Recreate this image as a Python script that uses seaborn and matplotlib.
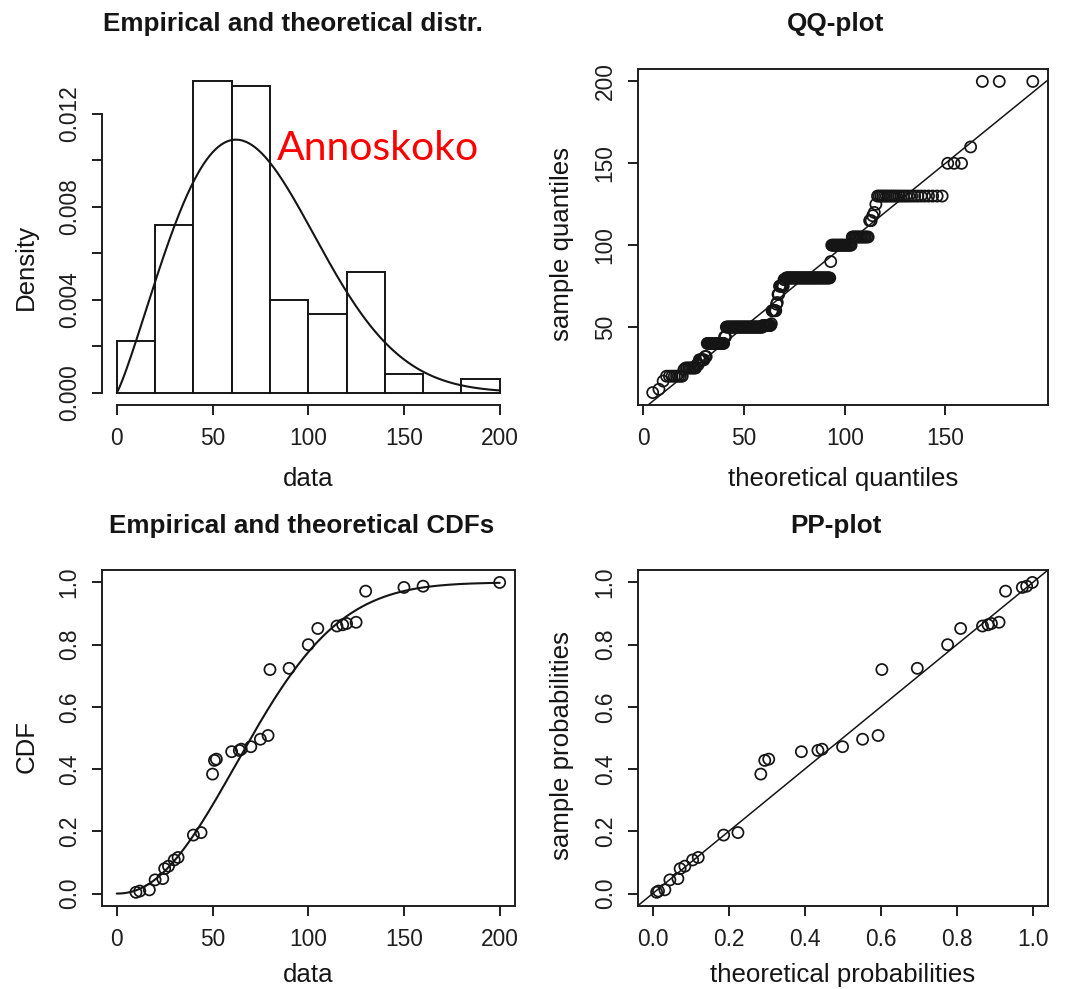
import numpy as np
import pandas as pd
import matplotlib
matplotlib.use("Agg")
import matplotlib.pyplot as plt
import seaborn as sns

# ---------------- data ----------------
# distinct observed values and how many times each occurs (n = 250)
values = [10, 12, 17, 20, 24, 25, 27, 30, 32, 40, 44, 50, 51, 52, 60, 64, 65,
          70, 75, 79, 80, 90, 100, 105, 115, 118, 120, 125, 130, 150, 160, 200]
counts = [1, 1, 1, 8, 1, 8, 2, 5, 2, 18, 2, 47, 11, 1, 6, 1, 1,
          2, 6, 3, 53, 1, 19, 13, 2, 1, 1, 1, 25, 3, 1, 3]

# fitted theoretical distribution (Weibull)
weibull_shape = 2.16
weibull_scale = 83.0

bin_edges = [0, 20, 40, 60, 80, 100, 120, 140, 160, 180, 200]
data_ticks = [0, 50, 100, 150, 200]
density_ticks = [0.000, 0.002, 0.004, 0.006, 0.008, 0.010, 0.012]
density_labels = ["0.000", "", "0.004", "", "0.008", "", "0.012"]
qq_xticks = [0, 50, 100, 150]
qq_yticks = [50, 100, 150, 200]
prob_ticks = [0.0, 0.2, 0.4, 0.6, 0.8, 1.0]
prob_labels = ["0.0", "0.2", "0.4", "0.6", "0.8", "1.0"]

titles = ["Empirical and theoretical distr.", "QQ-plot",
          "Empirical and theoretical CDFs", "PP-plot"]
annotation = "Annoskoko"

# ---------------- derived ----------------
data = np.repeat(values, counts)
n = len(data)
ecdf = np.cumsum(counts) / n


def wcdf(x):
    x = np.asarray(x, dtype=float)
    return 1 - np.exp(-(x / weibull_scale) ** weibull_shape)


def wpdf(x):
    x = np.asarray(x, dtype=float)
    z = x / weibull_scale
    return (weibull_shape / weibull_scale) * z ** (weibull_shape - 1) * np.exp(-z ** weibull_shape)


def wppf(p):
    p = np.asarray(p, dtype=float)
    return weibull_scale * (-np.log(1 - p)) ** (1 / weibull_shape)


grid = np.linspace(bin_edges[0], bin_edges[-1], 401)

# ---------------- style ----------------
sns.set_theme(style="white")
plt.rcParams["font.family"] = ["Liberation Sans", "DejaVu Sans"]
plt.rcParams["axes.edgecolor"] = "#1e1e1e"
plt.rcParams["text.color"] = "#151515"
plt.rcParams["axes.labelcolor"] = "#151515"
plt.rcParams["xtick.color"] = "#1e1e1e"
plt.rcParams["ytick.color"] = "#1e1e1e"

TICK_FS = 16.4
LABEL_FS = 18.6
TITLE_FS = 18.7
LW = 1.4
INK = "#151515"
CURVE_LW = 1.5
MARK_S = 64
MARK_LW = 1.25

W, H = 1066, 989
fig = plt.figure(figsize=(W / 100, H / 100), dpi=100)


def px_axes(left, top, right, bottom):
    return fig.add_axes([left / W, 1 - bottom / H, (right - left) / W, (bottom - top) / H])


ax1 = px_axes(101.5, 69, 515, 405)
ax2 = px_axes(637.5, 69, 1048, 405)
ax3 = px_axes(101.5, 570, 515, 906)
ax4 = px_axes(637.5, 570, 1048, 906)


def pad_lim(lo, hi, f=0.04):
    d = (hi - lo) * f
    return lo - d, hi + d


def style_axes(ax, frame=True):
    ax.tick_params(axis="both", direction="out", length=7, width=LW,
                   labelsize=TICK_FS, bottom=True, left=True)
    ax.tick_params(axis="x", pad=9)
    ax.tick_params(axis="y", pad=8)
    for lab in ax.get_yticklabels():
        lab.set_rotation(90)
        lab.set_va("center")
    for s in ax.spines.values():
        s.set_linewidth(LW)
        s.set_visible(frame)
    ax.grid(False)


def labels(ax, xlabel, ylabel, title, ylab_y=0.478, title_x=0.483, xpad=12):
    ax.set_xlabel(xlabel, fontsize=LABEL_FS, labelpad=xpad)
    ax.set_ylabel(ylabel, fontsize=LABEL_FS, labelpad=14)
    ax.yaxis.label.set_y(ylab_y)
    ax.set_title(title, fontsize=TITLE_FS, fontweight="bold", pad=27, x=title_x)


# ---- panel 1 : histogram + density ----
eps = 1e-6  # right-closed bins, as in R's hist()
edges_rc = np.array(bin_edges, dtype=float) + eps
edges_rc[0] = bin_edges[0]
sns.histplot(x=data, bins=edges_rc, stat="density", color="white", edgecolor=INK,
             linewidth=LW, alpha=1, ax=ax1)
sns.lineplot(x=grid, y=wpdf(grid), color=INK, linewidth=CURVE_LW, ax=ax1)
hist_dens, _ = np.histogram(data, bins=edges_rc, density=True)
ymax = max(hist_dens.max(), wpdf(grid).max())
ax1.set_xlim(*pad_lim(bin_edges[0], bin_edges[-1]))
ax1.set_ylim(*pad_lim(0, ymax))
ax1.set_xticks(data_ticks)
ax1.set_yticks(density_ticks)
ax1.set_yticklabels(density_labels)
style_axes(ax1, frame=False)
ax1.spines["left"].set_visible(True)
ax1.spines["bottom"].set_visible(True)
ax1.spines["left"].set_bounds(density_ticks[0], density_ticks[-1])
ax1.spines["bottom"].set_bounds(data_ticks[0], data_ticks[-1])
labels(ax1, "data", "Density", titles[0], ylab_y=0.41, title_x=0.464)

# ---- panel 2 : QQ plot ----
theo_q = wppf((np.arange(1, n + 1) - 0.5) / n)
samp_q = np.sort(data)
sns.scatterplot(x=theo_q, y=samp_q, marker="o", s=MARK_S, facecolor="none",
                edgecolor=INK, linewidth=MARK_LW, ax=ax2)
ax2.axline((0, 0), slope=1, color=INK, linewidth=1.1)
ax2.set_xlim(*pad_lim(theo_q.min(), theo_q.max()))
ax2.set_ylim(*pad_lim(samp_q.min(), samp_q.max()))
ax2.set_xticks(qq_xticks)
ax2.set_yticks(qq_yticks)
style_axes(ax2)
labels(ax2, "theoretical quantiles", "sample quantiles", titles[1])

# ---- panel 3 : CDFs ----
sns.lineplot(x=grid, y=wcdf(grid), color=INK, linewidth=CURVE_LW, ax=ax3)
sns.scatterplot(x=values, y=ecdf, marker="o", s=MARK_S, facecolor="none",
                edgecolor=INK, linewidth=MARK_LW, ax=ax3)
ax3.set_xlim(*pad_lim(bin_edges[0], bin_edges[-1]))
ax3.set_ylim(*pad_lim(0, 1))
ax3.set_xticks(data_ticks)
ax3.set_yticks(prob_ticks)
ax3.set_yticklabels(prob_labels)
style_axes(ax3)
labels(ax3, "data", "CDF", titles[2], ylab_y=0.476, xpad=8.5)

# ---- panel 4 : PP plot ----
sns.scatterplot(x=wcdf(values), y=ecdf, marker="o", s=MARK_S, facecolor="none",
                edgecolor=INK, linewidth=MARK_LW, ax=ax4)
ax4.axline((0, 0), slope=1, color=INK, linewidth=1.1)
ax4.set_xlim(*pad_lim(0, 1))
ax4.set_ylim(*pad_lim(0, 1))
ax4.set_xticks(prob_ticks)
ax4.set_xticklabels(prob_labels)
ax4.set_yticks(prob_ticks)
ax4.set_yticklabels(prob_labels)
style_axes(ax4)
labels(ax4, "theoretical probabilities", "sample probabilities", titles[3], xpad=8.5)

# red annotation
fig.text(277 / W, 1 - 160 / H, annotation, color="#ff0000", fontsize=29.5,
         family=["Lato", "DejaVu Sans"], ha="left", va="baseline")

fig.savefig("out.png", dpi=100, facecolor="white")
